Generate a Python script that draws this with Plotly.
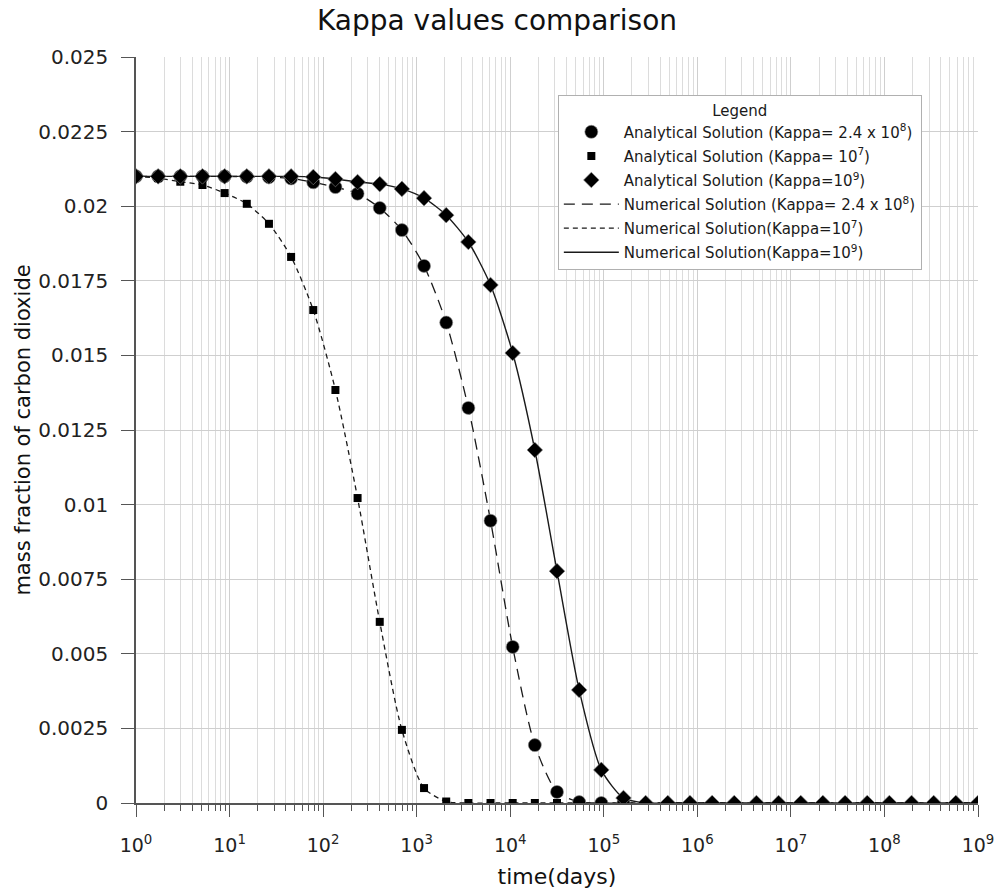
import plotly.graph_objects as go

# Sampling times (days), evenly spaced on the log axis
time_days = [1, 1.725, 2.976, 5.135, 8.859, 15.28, 26.37, 45.49, 78.48, 135.4,
             233.6, 403.0, 695.2, 1199, 2069, 3570, 6159, 10625, 18330, 31623,
             54556, 94121, 162378, 280135, 483293, 833782, 1438450, 2481621,
             4281332, 7386238, 12742750, 21983926, 37926902, 65431332,
             112883789, 194748304, 335981829, 579639395, 1000000000]

# Mass fraction of CO2, kappa = 2.4e8
co2_k24e8 = [0.0210, 0.0210, 0.0210, 0.0210, 0.0210, 0.02099, 0.02097, 0.02093,
             0.02080, 0.02064, 0.02042, 0.01994, 0.01920, 0.01800, 0.01610,
             0.01324, 0.00946, 0.00523, 0.00194, 0.00037, 0.00003, 0.0, 0.0]

# Mass fraction of CO2, kappa = 1e7
co2_k1e7 = [0.0210, 0.02094, 0.02082, 0.02071, 0.02044, 0.02008, 0.01941,
            0.01830, 0.01652, 0.01384, 0.01022, 0.00607, 0.00245, 0.00050,
            0.00005, 0.0, 0.0, 0.0, 0.0, 0.0, 0.0, 0.0]

# Mass fraction of CO2, kappa = 1e9
co2_k1e9 = [0.0210, 0.0210, 0.0210, 0.0210, 0.0210, 0.0210, 0.0210, 0.0210,
            0.02098, 0.02091, 0.02081, 0.02074, 0.02058, 0.02027, 0.01970,
            0.01880, 0.01736, 0.01508, 0.01183, 0.00777, 0.00379, 0.00111,
            0.00017, 0.0, 0.0, 0.0, 0.0, 0.0, 0.0, 0.0, 0.0, 0.0, 0.0, 0.0,
            0.0, 0.0, 0.0, 0.0, 0.0]

y_ticks = [0, 0.0025, 0.005, 0.0075, 0.01, 0.0125, 0.015, 0.0175, 0.02, 0.0225, 0.025]
y_labels = ["0", "0.0025", "0.005", "0.0075", "0.01", "0.0125", "0.015",
            "0.0175", "0.02", "0.0225", "0.025"]
decades = list(range(0, 10))

FONT = "DejaVu Sans"
INK = "#1a1a1a"


def pad_zero(values):
    """Extend a series with zeros out to the last sampling time."""
    return values + [0.0] * (len(time_days) - len(values))


fig = go.Figure()

# Numerical solutions (smooth curves)
fig.add_trace(go.Scatter(
    x=time_days, y=pad_zero(co2_k24e8),
    mode="lines", line=dict(color=INK, width=1.3, dash="11px,7px", shape="spline", smoothing=0.7),
    name="Numerical Solution (Kappa= 2.4 x 10<sup>8</sup>)", legendrank=4, legendgroup="n1"))
fig.add_trace(go.Scatter(
    x=time_days, y=pad_zero(co2_k1e7),
    mode="lines", line=dict(color=INK, width=1.3, dash="5px,4px", shape="spline", smoothing=0.7),
    name="Numerical Solution(Kappa=10<sup>7</sup>)", legendrank=5, legendgroup="n2"))
fig.add_trace(go.Scatter(
    x=time_days, y=co2_k1e9,
    mode="lines", line=dict(color=INK, width=1.4, shape="spline", smoothing=0.7),
    name="Numerical Solution(Kappa=10<sup>9</sup>)", legendrank=6, legendgroup="n3"))

# Analytical solutions (markers)
fig.add_trace(go.Scatter(
    x=time_days[:len(co2_k24e8)], y=co2_k24e8, mode="markers",
    marker=dict(symbol="circle", size=13, color="#000000",
                line=dict(color="#888888", width=0.6)),
    name="Analytical Solution (Kappa= 2.4 x 10<sup>8</sup>)", legendrank=1, legendgroup="a1"))
fig.add_trace(go.Scatter(
    x=time_days[:len(co2_k1e7)], y=co2_k1e7, mode="markers",
    marker=dict(symbol="square", size=8, color="#000000"),
    name="Analytical Solution (Kappa= 10<sup>7</sup>)", legendrank=2, legendgroup="a2"))
fig.add_trace(go.Scatter(
    x=time_days, y=co2_k1e9, mode="markers",
    marker=dict(symbol="diamond", size=12, color="#000000",
                line=dict(color="#888888", width=0.6)),
    name="Analytical Solution (Kappa=10<sup>9</sup>)", legendrank=3, legendgroup="a3"))

minor_vals = [m * 10 ** d for d in range(9) for m in range(2, 10)]

fig.update_layout(
    width=998, height=896,
    margin=dict(l=136, r=20, t=57, b=93),
    paper_bgcolor="white", plot_bgcolor="white",
    font=dict(family=FONT, color=INK),
    title=dict(text="Kappa values comparison", x=0.498, xanchor="center",
               y=0.977, yanchor="middle", font=dict(size=28, color="#111111")),
    showlegend=True,
    legend=dict(x=0.501, y=0.949, xanchor="left", yanchor="top",
                bgcolor="white", bordercolor="#b0b0b0", borderwidth=1,
                font=dict(size=15, color=INK), itemwidth=55,
                traceorder="grouped", tracegroupgap=1.6,
                title=dict(text="Legend", side="top center", font=dict(size=15, color=INK))),
    xaxis=dict(
        type="log", range=[0, 9], automargin=False,
        tickvals=[10 ** d for d in decades],
        ticktext=[f"10<sup>{d}</sup>" for d in decades],
        ticks="outside", ticklen=12, tickcolor="#555555", tickwidth=1.3,
        ticklabelstandoff=12,
        showline=True, linecolor="#555555", linewidth=1.5,
        showgrid=True, gridcolor="#cfcfcf", gridwidth=1,
        minor=dict(tickvals=minor_vals, ticks="outside", ticklen=6,
                   tickcolor="#555555", showgrid=True, gridcolor="#dcdcdc", gridwidth=1),
        tickfont=dict(size=19, color="#222222"),
        title=dict(text="time(days)", font=dict(size=22, color="#111111"), standoff=14),
        zeroline=False,
    ),
    yaxis=dict(
        range=[0, 0.025], tickvals=y_ticks, ticktext=y_labels, automargin=False,
        ticks="outside", ticklen=13, tickcolor="#555555", tickwidth=1.3,
        ticklabelstandoff=9,
        showline=True, linecolor="#555555", linewidth=1.5,
        showgrid=True, gridcolor="#cfcfcf", gridwidth=1,
        tickfont=dict(size=20, color="#222222"),
        title=dict(text="mass fraction of carbon dioxide",
                   font=dict(size=21, color="#111111"), standoff=2),
        zeroline=False,
    ),
)

fig.write_html("out.html")
